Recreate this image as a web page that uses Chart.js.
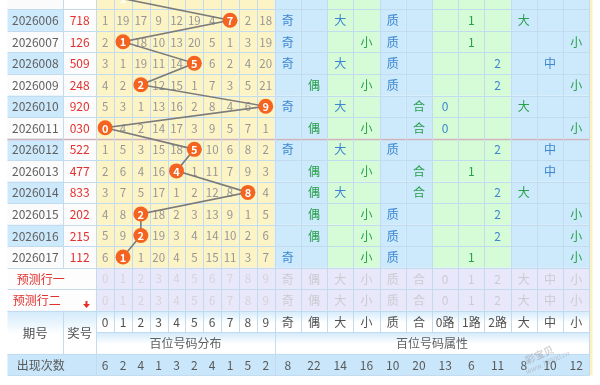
<!DOCTYPE html>
<html>
<head>
<meta charset="utf-8">
<script src="https://cdn.jsdelivr.net/npm/chart.js@4.4.1/dist/chart.umd.min.js"></script>
<style>
  html, body { margin: 0; padding: 0; background: #fff; }
  canvas { display: block; }
</style>
</head>
<body>
<canvas id="myChart" width="600" height="385"></canvas>
<script>
// ---- data ----
const periods = ['2026006', '2026007', '2026008', '2026009', '2026010', '2026011',
                 '2026012', '2026013', '2026014', '2026015', '2026016', '2026017']
const prizes = ['718', '126', '509', '248', '920', '030', '522', '477', '833', '202', '215', '112']
const hundreds = [7, 1, 5, 2, 9, 0, 5, 4, 8, 2, 2, 1]
const prevHundred = 1   // 2026005, row above the visible part
const omissions = [
    [1, 19, 17, 9, 12, 19, 4, 0, 2, 18],
    [2, 0, 18, 10, 13, 20, 5, 1, 3, 19],
    [3, 1, 19, 11, 14, 0, 6, 2, 4, 20],
    [4, 2, 0, 12, 15, 1, 7, 3, 5, 21],
    [5, 3, 1, 13, 16, 2, 8, 4, 6, 0],
    [0, 4, 2, 14, 17, 3, 9, 5, 7, 1],
    [1, 5, 3, 15, 18, 0, 10, 6, 8, 2],
    [2, 6, 4, 16, 0, 1, 11, 7, 9, 3],
    [3, 7, 5, 17, 1, 2, 12, 8, 0, 4],
    [4, 8, 0, 18, 2, 3, 13, 9, 1, 5],
    [5, 9, 0, 19, 3, 4, 14, 10, 2, 6],
    [6, 0, 1, 20, 4, 5, 15, 11, 3, 7]
]
const oddEven = ['奇', '奇', '奇', '偶', '奇', '偶', '奇', '偶', '偶', '偶', '偶', '奇']
const bigSmall = ['大', '小', '大', '小', '大', '小', '大', '小', '大', '小', '小', '小']
const primeComp = ['质', '质', '质', '质', '合', '合', '质', '合', '合', '质', '质', '质']
const roads = [1, 1, 2, 2, 0, 0, 2, 1, 2, 2, 2, 1]
const size3 = ['大', '小', '中', '小', '大', '小', '中', '中', '大', '小', '小', '小']

const digitLabels = ['0', '1', '2', '3', '4', '5', '6', '7', '8', '9']
const attrLabels = ['奇', '偶', '大', '小', '质', '合', '0', '1', '2', '大', '中', '小']
const attrHeads = ['奇', '偶', '大', '小', '质', '合', '0路', '1路', '2路', '大', '中', '小']
const predictLabels = ['预测行一', '预测行二']
const digitCounts = [6, 2, 4, 1, 3, 2, 4, 1, 5, 2]
const attrCounts = [8, 22, 14, 16, 10, 20, 13, 6, 11, 8, 10, 12]

// ---- layout ----
const FONT = '"Noto Sans CJK SC", "Noto Sans", sans-serif'
const periodW = 57, prizeW = 34, digitW = 18.3, attrW = 26.9
const digitStart = periodW + prizeW
const attrStart = digitStart + digitW * 10
const attrEnd = attrStart + attrW * 12
const blueBg = '#cde9fc'
const greenBg = '#d5fbd7'
const yellowBg = '#fdf4c6'
const lavender = '#e9e7fa'
const gridColor = '#c3dbee'
const blueText = '#3d86d0'
const greenText = '#2aa04a'
const attrBg = [blueBg, blueBg, greenBg, greenBg, blueBg, blueBg, greenBg, greenBg, greenBg, blueBg, blueBg, blueBg]
const attrTextColor = [blueText, greenText, blueText, greenText, blueText, greenText,
                       blueText, greenText, blueText, greenText, blueText, greenText]

function digitCenter(d) { return digitStart + digitW * (d + 0.5) }
function attrLeft(c) { return attrStart + attrW * c }

function attrCols(i) {
    return [
        oddEven[i] === '奇' ? 0 : 1,
        bigSmall[i] === '大' ? 2 : 3,
        primeComp[i] === '质' ? 4 : 5,
        6 + roads[i],
        size3[i] === '大' ? 9 : (size3[i] === '中' ? 10 : 11)
    ]
}

const nRows = periods.length
const predictRow = nRows
const headRow = nRows + 2
const countRow = nRows + 4

let ballData = [{ x: digitCenter(prevHundred), y: -0.5 }]
for (let i = 0; i < nRows; i++) {
    ballData.push({ x: digitCenter(hundreds[i]), y: i + 0.5 })
}

const tablePlugin = {
    id: 'table',
    beforeDatasetsDraw(chart) {
        const ctx = chart.ctx
        const sx = chart.scales.x, sy = chart.scales.y
        const px = v => sx.getPixelForValue(v)
        const py = v => sy.getPixelForValue(v)
        const rect = (x0, x1, r0, r1, color) => {
            ctx.fillStyle = color
            ctx.fillRect(px(x0), py(r0), px(x1) - px(x0), py(r1) - py(r0))
        }
        const text = (s, x, r, color, size, weight) => {
            ctx.fillStyle = color
            ctx.font = (weight || 'normal') + ' ' + size + 'px ' + FONT
            ctx.textAlign = 'center'
            ctx.textBaseline = 'middle'
            ctx.fillText(s, px(x), py(r) + 0.5)
        }
        const hline = (x0, x1, r, color, w) => {
            ctx.strokeStyle = color
            ctx.lineWidth = w || 1
            ctx.beginPath()
            ctx.moveTo(px(x0), Math.round(py(r)) + 0.5)
            ctx.lineTo(px(x1), Math.round(py(r)) + 0.5)
            ctx.stroke()
        }
        const vline = (x, r0, r1, color) => {
            ctx.strokeStyle = color
            ctx.lineWidth = 1
            ctx.beginPath()
            ctx.moveTo(Math.round(px(x)) + 0.5, py(r0))
            ctx.lineTo(Math.round(px(x)) + 0.5, py(r1))
            ctx.stroke()
        }
        const gradRect = (x0, x1, r0, r1) => {
            const g = ctx.createLinearGradient(0, py(r0), 0, py(r1))
            g.addColorStop(0, '#d2eafb')
            g.addColorStop(0.55, '#ffffff')
            g.addColorStop(1, '#ffffff')
            rect(x0, x1, r0, r1, g)
        }

        ctx.save()
        ctx.fillStyle = '#ffffff'
        ctx.fillRect(0, 0, chart.width, chart.height)

        // data rows
        for (let i = 0; i < nRows; i++) {
            rect(0, periodW, i, i + 1, i % 2 === 0 ? blueBg : '#fbfbfb')
            rect(periodW, digitStart, i, i + 1, '#fcfcfc')
            rect(digitStart, attrStart, i, i + 1, yellowBg)
            for (let c = 0; c < 12; c++) rect(attrLeft(c), attrLeft(c + 1), i, i + 1, attrBg[c])
        }
        // the row above the visible part
        rect(0, periodW, -1, 0, '#fbfbfb')
        rect(digitStart, attrStart, -1, 0, yellowBg)
        for (let c = 0; c < 12; c++) rect(attrLeft(c), attrLeft(c + 1), -1, 0, attrBg[c])

        // prediction rows
        for (let k = 0; k < 2; k++) {
            rect(0, digitStart, predictRow + k, predictRow + k + 1, '#fdfdfd')
            rect(digitStart, attrEnd, predictRow + k, predictRow + k + 1, lavender)
        }
        // header rows
        gradRect(0, periodW, headRow, headRow + 2)
        gradRect(periodW, digitStart, headRow, headRow + 2)
        gradRect(digitStart, attrEnd, headRow, headRow + 1)
        gradRect(digitStart, attrEnd, headRow + 1, headRow + 2)
        // count row
        rect(0, attrEnd, countRow, countRow + 1, '#c9e6fa')
        // right strip
        rect(attrEnd, 600, -1, countRow + 1, '#fcefc2')

        // grid
        for (let r = -1; r <= countRow + 1; r++) {
            if (r === headRow + 1) {
                hline(digitStart, attrEnd, r, gridColor)
            } else {
                hline(0, attrEnd, r, gridColor)
            }
        }
        hline(0, attrEnd, 6, '#cfb3bb', 1.5)
        for (let d = 0; d <= 10; d++) {
            const x = digitStart + digitW * d
            vline(x, -1, headRow + 1, gridColor)
        }
        vline(digitStart, headRow, countRow, gridColor)
        vline(attrStart, headRow, countRow + 1, gridColor)
        for (let c = 1; c <= 12; c++) vline(attrLeft(c), -1, headRow + 1, gridColor)
        vline(attrEnd, headRow, countRow + 1, gridColor)
        vline(periodW, -1, nRows, gridColor)
        vline(periodW, headRow, headRow + 2, gridColor)
        vline(digitStart, countRow, countRow + 1, gridColor)

        // data row texts
        for (let i = 0; i < nRows; i++) {
            text(periods[i], periodW / 2, i + 0.5, '#606060', 12)
            text(prizes[i], periodW + prizeW / 2, i + 0.5, '#e2302d', 12)
            for (let d = 0; d < 10; d++) {
                if (d === hundreds[i]) continue
                text(String(omissions[i][d]), digitCenter(d), i + 0.5, '#969696', 11.5)
            }
            for (const c of attrCols(i)) {
                text(attrLabels[c], attrLeft(c) + attrW / 2, i + 0.5, attrTextColor[c], 12)
            }
        }

        // prediction rows
        text(predictLabels[0], 34, predictRow + 0.5, '#e2302d', 12)
        text(predictLabels[1], 30, predictRow + 1.5, '#e2302d', 12)
        ctx.fillStyle = '#ffffff'
        ctx.fillRect(px(75), py(predictRow + 1) + 2, 13, py(predictRow + 2) - py(predictRow + 1) - 2)
        ctx.fillStyle = '#e2302d'
        const ax = px(81), ay = py(predictRow + 1.5) + 5
        ctx.beginPath()
        ctx.moveTo(ax - 3.5, ay - 1)
        ctx.lineTo(ax + 3.5, ay - 1)
        ctx.lineTo(ax, ay + 3)
        ctx.closePath()
        ctx.fill()
        ctx.fillRect(ax - 1, ay - 4, 2, 3)
        for (let k = 0; k < 2; k++) {
            for (let d = 0; d < 10; d++) text(digitLabels[d], digitCenter(d), predictRow + k + 0.5, '#d4d3dc', 11.5)
            for (let c = 0; c < 12; c++) text(attrLabels[c], attrLeft(c) + attrW / 2, predictRow + k + 0.5, '#cccbd3', 12)
        }

        // header texts
        text('期号', periodW / 2, headRow + 1, '#505050', 12.5)
        text('奖号', periodW + prizeW / 2, headRow + 1, '#505050', 12.5)
        for (let d = 0; d < 10; d++) text(digitLabels[d], digitCenter(d), headRow + 0.5, '#505050', 12)
        for (let c = 0; c < 12; c++) text(attrHeads[c], attrLeft(c) + attrW / 2, headRow + 0.5, '#505050', 12)
        text('百位号码分布', (digitStart + attrStart) / 2, headRow + 1.5, '#606060', 12)
        text('百位号码属性', (attrStart + attrEnd) / 2, headRow + 1.5, '#606060', 12)

        // count row
        text('出现次数', 34, countRow + 0.5, '#5a5a5a', 12)
        for (let d = 0; d < 10; d++) text(String(digitCounts[d]), digitCenter(d), countRow + 0.5, '#5a5a5a', 12)
        for (let c = 0; c < 12; c++) text(String(attrCounts[c]), attrLeft(c) + attrW / 2, countRow + 0.5, '#5a5a5a', 12)
        ctx.restore()
    },
    afterDatasetsDraw(chart) {
        const ctx = chart.ctx
        const meta = chart.getDatasetMeta(0)
        ctx.save()
        ctx.fillStyle = '#ffffff'
        ctx.font = 'bold 11px ' + FONT
        ctx.textAlign = 'center'
        ctx.textBaseline = 'middle'
        const digits = [prevHundred].concat(hundreds)
        meta.data.forEach((pt, i) => {
            ctx.fillText(String(digits[i]), pt.x, pt.y + 0.5)
        })
        // watermark
        ctx.translate(chart.scales.x.getPixelForValue(548), chart.scales.y.getPixelForValue(countRow + 0.3))
        ctx.rotate(-0.42)
        ctx.globalAlpha = 0.35
        ctx.fillStyle = '#8a7a7a'
        ctx.font = 'bold 10px ' + FONT
        ctx.fillText('彩宝贝', 0, -6)
        ctx.font = 'italic 7px ' + FONT
        ctx.fillText('www.78500.cn', 4, 4)
        ctx.restore()
    }
}

new Chart(document.getElementById('myChart'), {
    type: 'line',
    data: {
        datasets: [{
            data: ballData,
            borderColor: '#7b7b7b',
            borderWidth: 1.6,
            pointRadius: 7.5,
            pointBackgroundColor: '#f4631f',
            pointBorderWidth: 0,
            pointHoverRadius: 7.5,
            tension: 0,
            clip: false
        }]
    },
    options: {
        responsive: false,
        animation: false,
        events: [],
        layout: { padding: 0 },
        plugins: { legend: { display: false }, tooltip: { enabled: false } },
        scales: {
            x: { type: 'linear', min: 0, max: 600, display: false },
            y: { type: 'linear', min: -0.089, max: 17.098, reverse: true, display: false }
        }
    },
    plugins: [tablePlugin]
})
</script>
</body>
</html>
